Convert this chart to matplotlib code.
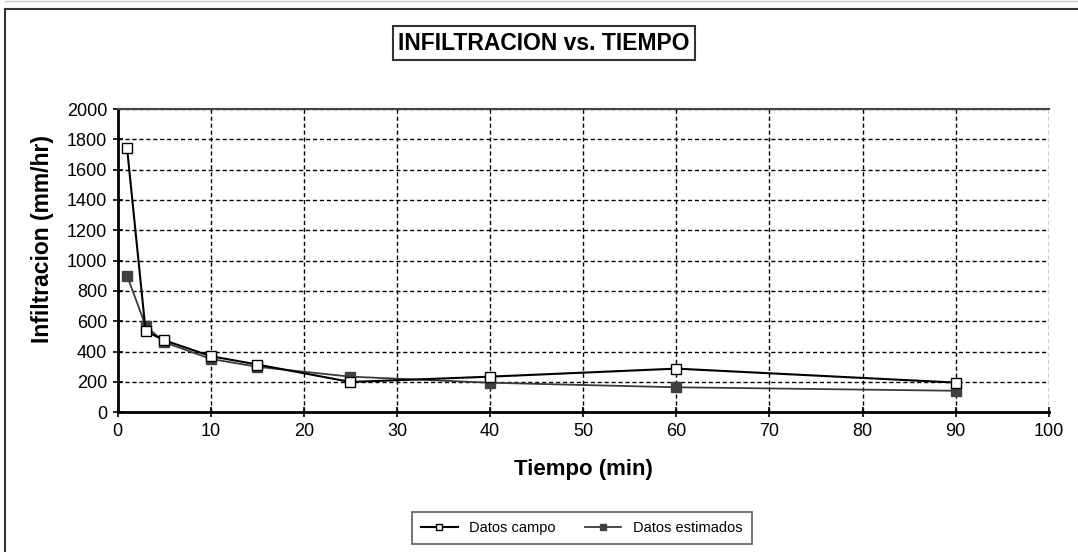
import matplotlib
matplotlib.use("Agg")
import matplotlib.pyplot as plt
from matplotlib.lines import Line2D

plt.rcParams['font.family'] = ['Liberation Sans', 'DejaVu Sans']

# data
tiempo = [1, 3, 5, 10, 15, 25, 40, 60, 90]
datos_campo = [1745, 535, 475, 370, 315, 200, 235, 288, 196]
datos_estimados = [902, 570, 462, 352, 300, 235, 195, 165, 142]
x_ticks = list(range(0, 101, 10))
y_ticks = list(range(0, 2001, 200))

W, H = 1078, 552
fig = plt.figure(figsize=(W / 100, H / 100), dpi=100)
ax = fig.add_axes([117.7 / W, 1 - 412.3 / H, (1048.7 - 117.7) / W, (412.3 - 109) / H])

ax.plot(tiempo, datos_campo, color="black", lw=1.5, marker="s", ms=6.5,
        mfc="white", mec="black", mew=1.0, label="Datos campo", zorder=4)
ax.plot(tiempo, datos_estimados, color="#3a3a3a", lw=1.3, marker="s", ms=7.5,
        mfc="#404040", mec="#404040", label="Datos estimados", zorder=3)

ax.set_xlim(0, 100)
ax.set_ylim(0, 2000)
ax.set_xticks(x_ticks)
ax.set_yticks(y_ticks)
ax.grid(True, color="black", lw=1.0, ls=(0, (3, 2)))
ax.set_axisbelow(True)
ax.tick_params(direction="inout", length=7, width=1.2, labelsize=13, colors="black", pad=4)

ax.spines["left"].set_linewidth(2)
ax.spines["bottom"].set_linewidth(2)
ax.spines["top"].set_color("#444444")
ax.spines["top"].set_linewidth(1.5)
ax.spines["right"].set_visible(False)

ax.set_xlabel("Tiempo (min)", fontsize=16, fontweight="bold", labelpad=14)
ax.set_ylabel("Infiltracion (mm/hr)", fontsize=16.5, fontweight="bold")
ax.yaxis.set_label_coords(-0.068, 0.57)

fig.text(544 / W, 1 - 43 / H, "INFILTRACION vs. TIEMPO", fontsize=16.5, fontweight="bold",
         ha="center", va="center",
         bbox=dict(boxstyle="square,pad=0.25", fc="white", ec="#333333", lw=1.5))

leg = fig.legend(loc="center", bbox_to_anchor=(582 / W, 1 - 528 / H), ncol=2,
                 fontsize=10.5, frameon=True, fancybox=False, edgecolor="#333333",
                 handlelength=2.5, columnspacing=2.0, borderpad=0.6)
leg.get_frame().set_linewidth(1.2)
for h in leg.legend_handles:
    h.set_markersize(5)

# chart border (left and top edges)
fig.add_artist(Line2D([5 / W, 5 / W], [0, 1 - 9 / H], transform=fig.transFigure,
                      color="#333333", lw=1.5))
fig.add_artist(Line2D([5 / W, 1], [1 - 9 / H, 1 - 9 / H], transform=fig.transFigure,
                      color="#333333", lw=1.5))
fig.add_artist(Line2D([5 / W, 1], [1 - 0.5 / H, 1 - 0.5 / H], transform=fig.transFigure,
                      color="#c8c8c8", lw=1))

fig.savefig("out.png", dpi=100)
